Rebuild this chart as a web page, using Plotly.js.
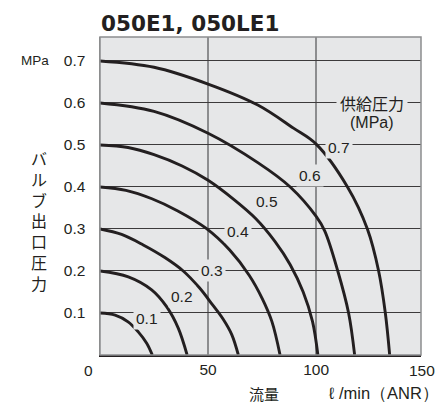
<!DOCTYPE html>
<html>
<head>
<meta charset="utf-8">
<script src="https://cdn.plot.ly/plotly-3.0.1.min.js"></script>
<style>
  html, body { margin: 0; padding: 0; background: #ffffff; }
  #chart { width: 443px; height: 403px; }
</style>
</head>
<body>
<div id="chart"></div>
<script>
// Flow (ℓ/min ANR) vs. valve outlet pressure (MPa), one curve per supply pressure
const supplyPressures = ['0.1', '0.2', '0.3', '0.4', '0.5', '0.6', '0.7'];

const flow01 = [0, 7, 13, 17.7, 21.6, 24.2];
const out01  = [0.1, 0.095, 0.079, 0.055, 0.028, 0];

const flow02 = [0, 13.1, 23.9, 30.8, 36.2, 40.3];
const out02  = [0.2, 0.186, 0.155, 0.115, 0.064, 0];

const flow03 = [0, 10, 20, 30, 38.5, 46, 52, 57, 61, 64];
const out03  = [0.3, 0.287, 0.262, 0.232, 0.2, 0.16, 0.12, 0.085, 0.048, 0];

const flow04 = [0, 12, 24, 36, 49, 60, 69, 75, 79.5, 83.3];
const out04  = [0.4, 0.392, 0.372, 0.343, 0.302, 0.25, 0.19, 0.135, 0.08, 0];

const flow05 = [0, 13, 25, 38, 50, 62, 72, 81, 88, 94, 98.3, 100.8];
const out05  = [0.5, 0.494, 0.477, 0.45, 0.416, 0.37, 0.325, 0.27, 0.215, 0.15, 0.08, 0];

const flow06 = [0, 25, 50, 73, 88, 100, 104, 110, 115, 117.8];
const out06  = [0.6, 0.58, 0.528, 0.458, 0.4, 0.33, 0.295, 0.2, 0.1, 0];

const flow07 = [0, 25, 50, 73, 89.5, 100, 114.5, 123.7, 128.9, 132, 134];
const out07  = [0.7, 0.685, 0.645, 0.595, 0.54, 0.502, 0.4, 0.3, 0.2, 0.1, 0];

const flows = [flow01, flow02, flow03, flow04, flow05, flow06, flow07];
const outs  = [out01, out02, out03, out04, out05, out06, out07];

// where each supply-pressure label sits along the curves (flow, pressure)
const labelFlow = [21.6, 37.8, 51.7, 64.0, 77.1, 97.1, 110.6];
const labelOut  = [0.087, 0.139, 0.2, 0.294, 0.365, 0.427, 0.495];

const xTickVals = [50, 100];
const xTickText = ['50', '100'];
const yTickVals = [0.1, 0.2, 0.3, 0.4, 0.5, 0.6, 0.7];
const yTickText = ['0.1', '0.2', '0.3', '0.4', '0.5', '0.6', '0.7'];

const INK = '#231f20';
const PANEL = '#e6e7e8';
const LATIN = 'Liberation Sans, Arial, sans-serif';
const CJK = 'Noto Sans CJK JP, sans-serif';

const traces = flows.map((f, i) => ({
  type: 'scatter',
  mode: 'lines',
  x: f,
  y: outs[i],
  name: supplyPressures[i],
  line: { color: INK, width: 2.9, shape: 'spline', smoothing: 1 },
  hoverinfo: 'skip'
}));

const annotations = supplyPressures.map((t, i) => ({
  x: labelFlow[i], y: labelOut[i], xref: 'x', yref: 'y',
  text: t, showarrow: false,
  font: { family: LATIN, size: 15.5, color: INK },
  bgcolor: PANEL, borderpad: 2
}));

annotations.push(
  { x: 125.8, y: 0.6, xref: 'x', yref: 'y', text: '供給圧力', showarrow: false,
    font: { family: CJK, size: 16, color: INK }, bgcolor: PANEL, borderpad: 3 },
  { x: 125.8, y: 0.553, xref: 'x', yref: 'y', text: '(MPa)', showarrow: false,
    font: { family: LATIN, size: 16, color: INK } },
  // corner tick labels (page pixels)
  { px: 88, py: 370, text: '0', showarrow: false,
    font: { family: LATIN, size: 15.5, color: INK } },
  { px: 421.5, py: 370, text: '150', showarrow: false,
    font: { family: LATIN, size: 15.5, color: INK } },
  // unit above the pressure scale
  { px: 35, py: 61, text: 'MPa', showarrow: false,
    font: { family: LATIN, size: 13.5, color: INK } },
  // vertical axis title, one character per line
  { px: 39, py: 220, text: 'バ<br>ル<br>ブ<br>出<br>口<br>圧<br>力', showarrow: false,
    font: { family: CJK, size: 16, color: INK } },
  // horizontal axis title
  { px: 264, py: 393, text: '流量', showarrow: false,
    font: { family: CJK, size: 15, color: INK } },
  { px: 384, py: 393, text: 'ℓ /min（ANR）', showarrow: false,
    font: { family: LATIN, size: 16.5, color: INK } }
);

// page-pixel annotations -> paper coordinates
const W = 443, H = 403;
const M = { l: 100, r: 22, t: 37, b: 48 };
const pw = W - M.l - M.r, ph = H - M.t - M.b;
annotations.forEach(a => {
  if (a.px !== undefined) {
    a.xref = 'paper'; a.yref = 'paper';
    a.x = (a.px - M.l) / pw;
    a.y = (H - M.b - a.py) / ph;
    delete a.px; delete a.py;
  }
  a.xanchor = 'center';
  a.yanchor = 'middle';
});

const layout = {
  width: W, height: H,
  margin: M,
  paper_bgcolor: '#ffffff',
  plot_bgcolor: PANEL,
  showlegend: false,
  title: {
    text: '<b>050E1, 050LE1</b>',
    font: { family: 'DejaVu Sans, sans-serif', size: 21.5, color: INK },
    x: 101 / W, xanchor: 'left', xref: 'container',
    y: 1 - 23.5 / H, yanchor: 'middle', yref: 'container'
  },
  xaxis: {
    range: [0, 148.5],
    tickvals: xTickVals, ticktext: xTickText,
    ticks: '', ticklabelstandoff: 0,
    tickfont: { family: LATIN, size: 15.5, color: INK },
    showgrid: true, gridcolor: '#8c8d8f', gridwidth: 1.6,
    zeroline: false,
    showline: true, linecolor: INK, linewidth: 1.5,
    fixedrange: true
  },
  yaxis: {
    range: [0, 0.757],
    tickvals: yTickVals, ticktext: yTickText,
    ticks: '', ticklabelstandoff: 10,
    tickfont: { family: LATIN, size: 15.5, color: INK },
    showgrid: true, gridcolor: '#3c3a3b', gridwidth: 1,
    zeroline: false,
    showline: true, linecolor: '#8c8d8f', linewidth: 1.5,
    fixedrange: true
  },
  shapes: [
    { type: 'rect', xref: 'paper', yref: 'paper', x0: 0, x1: 1, y0: 0, y1: 1,
      line: { color: '#8c8d8f', width: 1.5 }, layer: 'above' }
  ],
  annotations: annotations
};

Plotly.newPlot('chart', traces, layout, { displayModeBar: false, staticPlot: true });
</script>
</body>
</html>
